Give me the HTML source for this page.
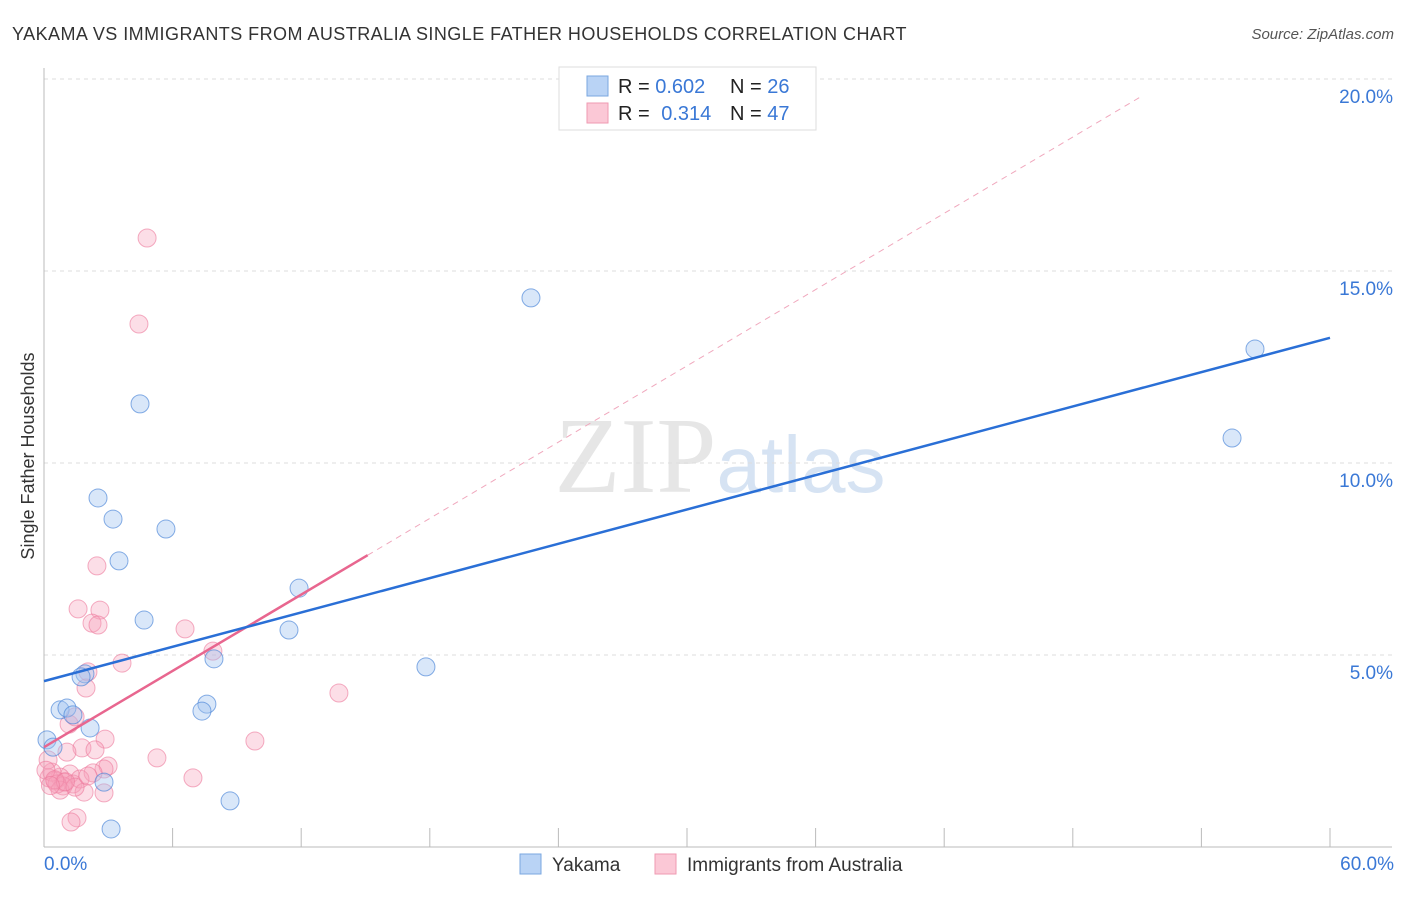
<!DOCTYPE html>
<html><head><meta charset="utf-8">
<style>
body{margin:0;background:#fff;font-family:"Liberation Sans",sans-serif;}
svg text{font-family:"Liberation Sans",sans-serif;}
</style></head>
<body>
<svg id="chart" width="1406" height="892" xmlns="http://www.w3.org/2000/svg">
<text x="12" y="40" font-size="18" fill="#333" letter-spacing="0.45">YAKAMA VS IMMIGRANTS FROM AUSTRALIA SINGLE FATHER HOUSEHOLDS CORRELATION CHART</text>
<text x="1394" y="39" font-size="15" fill="#555" font-style="italic" text-anchor="end">Source: ZipAtlas.com</text>
<text x="720" y="492" font-size="108" fill="#e6e6e6" text-anchor="middle" font-family="Liberation Serif"><tspan font-family="Liberation Serif">ZIP</tspan><tspan fill="#d6e3f3" font-family="Liberation Sans" font-size="80">atlas</tspan></text>
<text transform="translate(34,456) rotate(-90)" font-size="18" fill="#333" text-anchor="middle">Single Father Households</text>
<g id="grid"></g>
<g id="axes"></g>
<g id="marks"></g>
<g>
<rect x="559" y="67" width="257" height="63" fill="#fff" stroke="#ddd"/>
<rect x="587" y="76" width="21" height="20" fill="#b9d3f5" stroke="#7aa7e0"/>
<rect x="587" y="103" width="21" height="20" fill="#fbc8d6" stroke="#ef9ab2"/>
<text x="618" y="93" font-size="20" fill="#222">R = <tspan fill="#3a78d6">0.602</tspan></text>
<text x="730" y="93" font-size="20" fill="#222">N = <tspan fill="#3a78d6">26</tspan></text>
<text x="618" y="120" font-size="20" fill="#222">R = <tspan fill="#3a78d6" dx="6">0.314</tspan></text>
<text x="730" y="120" font-size="20" fill="#222">N = <tspan fill="#3a78d6">47</tspan></text>
</g>
<g>
<rect x="520" y="854" width="21" height="20" fill="#b9d3f5" stroke="#7aa7e0"/>
<text x="552" y="871" font-size="19" fill="#333">Yakama</text>
<rect x="655" y="854" width="21" height="20" fill="#fbc8d6" stroke="#ef9ab2"/>
<text x="687" y="871" font-size="19" fill="#333">Immigrants from Australia</text>
</g>
</svg>
<script>
const yTicks=[5,10,15,20];
const xTickLabels=["0.0%","60.0%"];
const blueX=[22.72,56.5,55.43,4.48,2.52,3.22,5.69,3.50,4.67,11.90,11.43,7.93,17.82,1.91,1.73,7.60,7.37,0.75,1.07,1.35,2.15,0.14,0.42,2.80,8.68,3.13];
const blueY=[14.30,12.97,10.65,11.54,9.09,8.54,8.28,7.45,5.91,6.74,5.65,4.90,4.69,4.51,4.43,3.72,3.54,3.57,3.62,3.44,3.10,2.79,2.60,1.69,1.20,0.47];
const pinkX=[4.81,4.43,2.47,1.59,2.61,2.24,2.52,6.58,7.88,3.64,2.05,1.96,13.76,1.17,1.45,2.85,9.84,5.27,1.77,2.38,1.07,2.99,2.80,6.95,2.29,1.21,0.75,0.23,0.51,0.93,0.37,1.35,1.68,0.89,0.61,1.87,2.80,0.75,1.45,2.05,1.54,1.26,0.19,0.09,0.5,1.0,0.3];
const pinkY=[15.86,13.62,7.32,6.20,6.17,5.83,5.78,5.68,5.10,4.79,4.56,4.14,4.01,3.20,3.39,2.81,2.76,2.32,2.58,2.53,2.47,2.11,2.03,1.80,1.93,1.90,1.82,1.80,1.72,1.69,1.95,1.64,1.77,1.59,1.64,1.43,1.41,1.48,1.56,1.85,0.76,0.65,2.27,2.0,1.75,1.7,1.6];
const blueLine=[4.32,13.26];
const pinkLine=[2.60,0.331];
const NS="http://www.w3.org/2000/svg";
const X=v=>44+v/60*1286;
const Y=v=>847-v/5*192;
function mk(tag,attrs,parent){const e=document.createElementNS(NS,tag);for(const k in attrs)e.setAttribute(k,attrs[k]);parent.appendChild(e);return e;}
const grid=document.getElementById('grid'),axes=document.getElementById('axes'),marks=document.getElementById('marks');
yTicks.forEach(t=>{
 const l=mk('line',{x1:44,x2:1392,y1:Y(t),y2:Y(t),stroke:'#ddd','stroke-dasharray':'4,4'},grid);
 
 
 const tx=mk('text',{x:1393,y:Y(t)+24,'font-size':19,fill:'#3a78d6','text-anchor':'end'},axes);
 tx.textContent=t.toFixed(1)+'%';
 
 
});
const ax=mk('line',{x1:44,x2:44,y1:68,y2:847,stroke:'#bbb'},axes);


const bx=mk('line',{x1:44,x2:1392,y1:847,y2:847,stroke:'#bbb'},axes);


for(let i=1;i<=10;i++){const t=mk('line',{x1:X(i*6),x2:X(i*6),y1:828,y2:847,stroke:'#bbb'},axes);
 
 }
[[0,'start',44],[60,'end',1394]].forEach((d,i)=>{const t=mk('text',{x:d[2],y:870,'font-size':19,fill:'#3a78d6','text-anchor':d[1]},axes);t.textContent=xTickLabels[i];
 
 });
pinkX.forEach((x,i)=>{const c=mk('circle',{cx:X(x),cy:Y(pinkY[i]),r:9,fill:'rgba(246,160,186,0.35)',stroke:'rgba(236,120,155,0.6)'},marks);
 
 });
blueX.forEach((x,i)=>{const c=mk('circle',{cx:X(x),cy:Y(blueY[i]),r:9,fill:'rgba(160,195,240,0.4)',stroke:'rgba(70,130,215,0.65)'},marks);
 
 });
const xEnd=51.2;
const pd=mk('line',{x1:X(15.1),y1:Y(pinkLine[0]+pinkLine[1]*15.1),x2:X(xEnd),y2:Y(pinkLine[0]+pinkLine[1]*xEnd),stroke:'#f0a8bd','stroke-dasharray':'6,5'},marks);


const pl=mk('line',{x1:X(0),y1:Y(pinkLine[0]),x2:X(15.1),y2:Y(pinkLine[0]+pinkLine[1]*15.1),stroke:'#e8668f','stroke-width':2.5},marks);


const bl=mk('line',{x1:X(0),y1:Y(blueLine[0]),x2:X(60),y2:Y(blueLine[1]),stroke:'#2a6fd6','stroke-width':2.5},marks);


</script>
</body></html>
